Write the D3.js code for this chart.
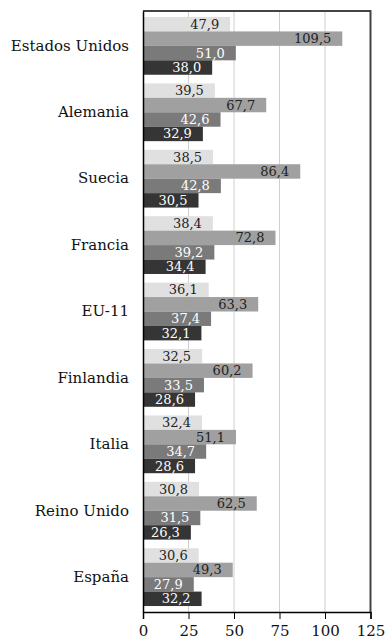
<!DOCTYPE html>
<html><head><meta charset="utf-8">
<script src="https://cdn.jsdelivr.net/npm/d3@7"></script>
<style>body{margin:0;background:#fff}svg{display:block}</style>
</head><body>
<script>
const categories = ["Estados Unidos","Alemania","Suecia","Francia","EU-11","Finlandia","Italia","Reino Unido","España"];
const series1 = [47.9,39.5,38.5,38.4,36.1,32.5,32.4,30.8,30.6];
const series2 = [109.5,67.7,86.4,72.8,63.3,60.2,51.1,62.5,49.3];
const series3 = [51.0,42.6,42.8,39.2,37.4,33.5,34.7,31.5,27.9];
const series4 = [38.0,32.9,30.5,34.4,32.1,28.6,28.6,26.3,32.2];
const tickValues = [0,25,50,75,100,125];

const seriesList = [series1,series2,series3,series4];
const fills = ["#e0e0e0","#a0a0a0","#7a7a7a","#353535"];
const textFills = ["#222","#222","#fff","#fff"];

const W=386,H=640;
const m={l:143,r:15.5,t:11,b:28};
const svg=d3.select("body").append("svg").attr("width",W).attr("height",H);
const x=d3.scaleLinear().domain([0,125]).range([m.l,W-m.r]);
const y=d3.scaleBand().domain(categories).range([m.t,H-m.b]).paddingInner(0.13).paddingOuter(0.09);
const ys=d3.scaleBand().domain(d3.range(4)).range([0,y.bandwidth()]);
const font='"DejaVu Serif"';

// grid
svg.append("g").selectAll("line").data([25,50,75,100]).join("line")
  .attr("x1",d=>x(d)).attr("x2",d=>x(d)).attr("y1",m.t).attr("y2",H-m.b)
  .attr("stroke","#cfcfcf").attr("stroke-width",1);

// bars
const data=[];
categories.forEach((c,i)=>seriesList.forEach((s,k)=>data.push({c,k,v:s[i]})));
svg.append("g").selectAll("rect").data(data).join("rect")
  .attr("x",x(0)).attr("y",d=>y(d.c)+ys(d.k))
  .attr("width",d=>x(d.v)-x(0)).attr("height",ys.bandwidth())
  .attr("fill",d=>fills[d.k]);
svg.append("g").selectAll("text").data(data).join("text")
  .attr("x",d=>x(d.v)-11).attr("y",d=>y(d.c)+ys(d.k)+ys.bandwidth()/2)
  .attr("dy","0.35em").attr("text-anchor","end")
  .style("font-family",font).style("font-size","13px")
  .attr("fill",d=>textFills[d.k])
  .text(d=>d3.format(".1f")(d.v).replace(".",","));

// frame top/right
svg.append("path").attr("d",`M${x(0)},${m.t}H${W-m.r}V${H-m.b}`)
  .attr("fill","none").attr("stroke","#444").attr("stroke-width",2);

// x axis
const xa=svg.append("g").attr("transform",`translate(0,${H-m.b})`)
  .call(d3.axisBottom(x).tickValues(tickValues).tickSize(7).tickPadding(6).tickFormat(d3.format("d")));
xa.select(".domain").attr("stroke","#000").attr("stroke-width",1.5);
xa.selectAll(".tick line").attr("stroke","#000");
xa.selectAll("text").style("font-family",font).style("font-size","15px").attr("fill","#111");

// y axis
const ya=svg.append("g").attr("transform",`translate(${m.l},0)`)
  .call(d3.axisLeft(y).tickSize(0).tickPadding(14));
ya.select(".domain").attr("stroke","#000").attr("stroke-width",1.5);
ya.selectAll("text").style("font-family",font).style("font-size","15px").attr("fill","#111");
</script>
</body></html>
